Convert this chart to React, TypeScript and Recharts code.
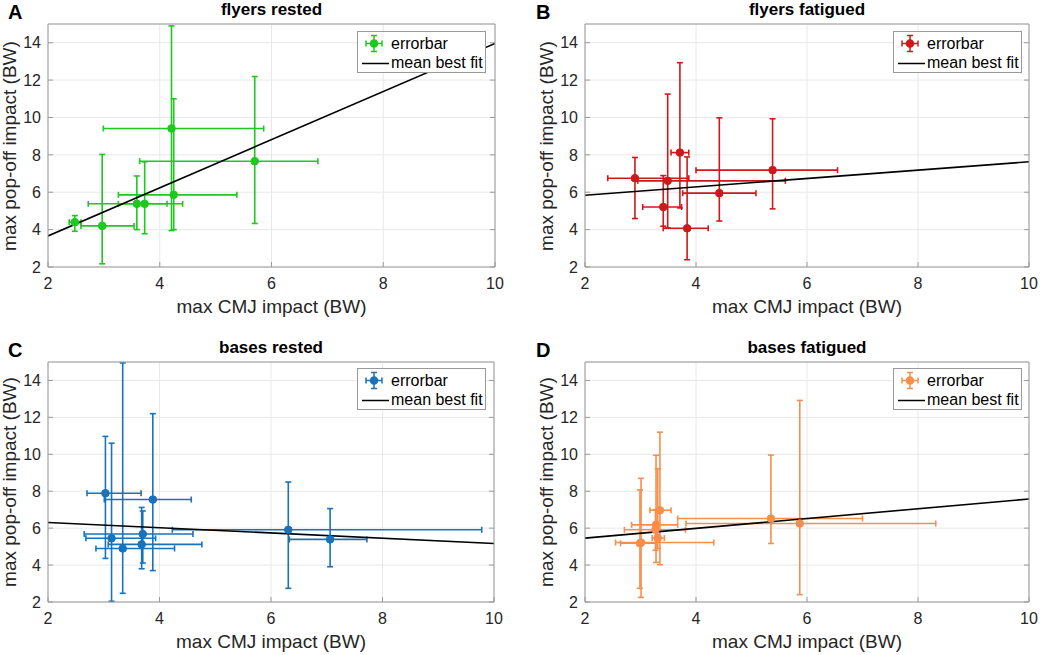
import React from "react";
import { ComposedChart, Scatter, Line, XAxis, YAxis, CartesianGrid, ErrorBar } from "recharts";

const xTicks = [2, 4, 6, 8, 10];
const yTicks = [2, 4, 6, 8, 10, 12, 14];

// each point: mean, and low/high ends of the error bars
const flyersRested = [
  { x: 2.48, y: 4.4, xLo: 2.38, xHi: 2.59, yLo: 3.91, yHi: 4.75 },
  { x: 2.97, y: 4.2, xLo: 2.59, xHi: 3.54, yLo: 2.17, yHi: 8.02 },
  { x: 3.59, y: 5.38, xLo: 2.72, xHi: 4.41, yLo: 4.0, yHi: 6.87 },
  { x: 3.73, y: 5.38, xLo: 3.26, xHi: 4.13, yLo: 3.78, yHi: 7.63 },
  { x: 4.25, y: 5.86, xLo: 3.26, xHi: 5.38, yLo: 4.0, yHi: 11.0 },
  { x: 4.21, y: 9.41, xLo: 2.99, xHi: 5.86, yLo: 3.95, yHi: 14.9 },
  { x: 5.7, y: 7.66, xLo: 3.64, xHi: 6.83, yLo: 4.33, yHi: 12.19 },
];

const flyersFatigued = [
  { x: 2.9, y: 6.75, xLo: 2.41, xHi: 3.87, yLo: 4.59, yHi: 7.86 },
  { x: 3.41, y: 5.21, xLo: 3.04, xHi: 3.74, yLo: 4.18, yHi: 6.89 },
  { x: 3.49, y: 6.61, xLo: 2.95, xHi: 5.61, yLo: 4.09, yHi: 11.25 },
  { x: 3.71, y: 8.12, xLo: 3.55, xHi: 3.87, yLo: 5.16, yHi: 12.93 },
  { x: 3.84, y: 4.07, xLo: 3.41, xHi: 4.22, yLo: 2.39, yHi: 7.89 },
  { x: 4.42, y: 5.95, xLo: 3.76, xHi: 5.08, yLo: 4.46, yHi: 9.98 },
  { x: 5.38, y: 7.18, xLo: 4.0, xHi: 6.55, yLo: 5.11, yHi: 9.93 },
];

const basesRested = [
  { x: 3.03, y: 7.89, xLo: 2.7, xHi: 3.67, yLo: 4.36, yHi: 10.97 },
  { x: 3.88, y: 7.55, xLo: 3.01, xHi: 4.57, yLo: 3.7, yHi: 12.2 },
  { x: 3.14, y: 5.45, xLo: 2.68, xHi: 3.93, yLo: 2.04, yHi: 10.6 },
  { x: 3.34, y: 4.9, xLo: 2.86, xHi: 4.27, yLo: 2.47, yHi: 14.95 },
  { x: 3.7, y: 5.68, xLo: 2.65, xHi: 4.6, yLo: 4.11, yHi: 6.93 },
  { x: 3.68, y: 5.12, xLo: 3.08, xHi: 4.76, yLo: 3.8, yHi: 7.12 },
  { x: 6.31, y: 5.91, xLo: 4.23, xHi: 9.78, yLo: 2.74, yHi: 8.5 },
  { x: 7.06, y: 5.39, xLo: 6.33, xHi: 7.72, yLo: 3.91, yHi: 7.06 },
];

const basesFatigued = [
  { x: 3.01, y: 5.22, xLo: 2.55, xHi: 4.32, yLo: 2.25, yHi: 8.7 },
  { x: 2.99, y: 5.18, xLo: 2.64, xHi: 3.3, yLo: 2.74, yHi: 8.07 },
  { x: 3.28, y: 6.18, xLo: 2.84, xHi: 3.67, yLo: 4.14, yHi: 9.95 },
  { x: 3.35, y: 6.97, xLo: 3.17, xHi: 3.55, yLo: 4.02, yHi: 11.2 },
  { x: 3.31, y: 5.46, xLo: 3.21, xHi: 3.43, yLo: 4.9, yHi: 9.22 },
  { x: 3.27, y: 5.91, xLo: 2.71, xHi: 3.81, yLo: 4.8, yHi: 7.0 },
  { x: 5.35, y: 6.52, xLo: 3.67, xHi: 7.0, yLo: 5.17, yHi: 9.96 },
  { x: 5.87, y: 6.25, xLo: 3.82, xHi: 8.32, yLo: 2.4, yHi: 12.92 },
];

// mean best fit lines, end points at x = 2 and x = 10
const fitFlyersRested = [{ x: 2, y: 3.66 }, { x: 10, y: 13.96 }];
const fitFlyersFatigued = [{ x: 2, y: 5.84 }, { x: 10, y: 7.63 }];
const fitBasesRested = [{ x: 2, y: 6.31 }, { x: 10, y: 5.17 }];
const fitBasesFatigued = [{ x: 2, y: 5.46 }, { x: 10, y: 7.58 }];

const FONT = '"Liberation Sans", Arial, Helvetica, sans-serif';
const AXIS = "#9a9a9a";
const TXT = "#262626";

type Pt = { x: number; y: number; xLo: number; xHi: number; yLo: number; yHi: number };

function LegendBox({ color, left, top }: { color: string; left: number; top: number }) {
  return (
    <div
      style={{
        position: "absolute",
        left,
        top,
        width: 129,
        height: 42,
        border: `1px solid ${AXIS}`,
        background: "#fff",
        boxSizing: "border-box",
        fontSize: 16,
        color: "#000",
      }}
    >
      <svg width={30} height={40} style={{ position: "absolute", left: 2, top: 0 }}>
        <g stroke={color} strokeWidth={1.5}>
          <line x1={6} y1={11.5} x2={22} y2={11.5} />
          <line x1={6} y1={8.5} x2={6} y2={14.5} />
          <line x1={22} y1={8.5} x2={22} y2={14.5} />
          <line x1={14} y1={3.5} x2={14} y2={19.5} />
          <line x1={11} y1={3.5} x2={17} y2={3.5} />
          <line x1={11} y1={19.5} x2={17} y2={19.5} />
          <circle cx={14} cy={11.5} r={3.5} fill={color} />
        </g>
        <line x1={2} y1={31.5} x2={29} y2={31.5} stroke="#000" strokeWidth={1.5} />
      </svg>
      <div style={{ position: "absolute", left: 33, top: 2, lineHeight: "19px" }}>errorbar</div>
      <div style={{ position: "absolute", left: 33, top: 21, lineHeight: "19px" }}>mean best fit</div>
    </div>
  );
}

const X_H = 30; // bottom axis band
const Y_W = 40; // left axis band

function Panel({
  letter,
  title,
  color,
  points,
  fit,
  left,
  top,
  width,
  plot,
  legendLeft,
  legendTop,
}: {
  letter: string;
  title: string;
  color: string;
  points: Pt[];
  fit: { x: number; y: number }[];
  left: number;
  top: number;
  width: number;
  plot: { left: number; top: number; right: number; bottom: number };
  legendLeft: number;
  legendTop: number;
}) {
  const height = 320;
  const data = points.map((p) => ({
    x: p.x,
    y: p.y,
    ex: [p.x - p.xLo, p.xHi - p.x],
    ey: [p.y - p.yLo, p.yHi - p.y],
  }));
  const plotW = plot.right - plot.left;
  const plotH = plot.bottom - plot.top;
  const margin = {
    left: plot.left - Y_W,
    top: plot.top - 1,
    right: width - plot.right - 1,
    bottom: height - plot.bottom - X_H,
  };
  const tickStyle = { fill: TXT, fontSize: 16, fontFamily: FONT };
  return (
    <div style={{ position: "absolute", left, top, width, height }}>
      <ComposedChart width={width} height={height} margin={margin}>
        <CartesianGrid stroke="#e8e8e8" strokeWidth={1} />
        <XAxis
          dataKey="x"
          type="number"
          domain={[2, 10]}
          ticks={xTicks}
          allowDataOverflow
          height={X_H}
          tickSize={-5}
          tickMargin={16}
          tick={tickStyle}
          axisLine={{ stroke: AXIS }}
          tickLine={{ stroke: AXIS }}
        />
        <XAxis
          xAxisId="top"
          orientation="top"
          type="number"
          domain={[2, 10]}
          ticks={xTicks}
          allowDataOverflow
          height={1}
          tickSize={-5}
          tickFormatter={() => ""}
          axisLine={{ stroke: AXIS }}
          tickLine={{ stroke: AXIS }}
        />
        <YAxis
          type="number"
          domain={[2, 15]}
          ticks={yTicks}
          allowDataOverflow
          width={Y_W}
          tickSize={-5}
          tickMargin={12}
          tick={tickStyle}
          axisLine={{ stroke: AXIS }}
          tickLine={{ stroke: AXIS }}
        />
        <YAxis
          yAxisId="right"
          orientation="right"
          type="number"
          domain={[2, 15]}
          ticks={yTicks}
          allowDataOverflow
          width={1}
          tickSize={-5}
          tickFormatter={() => ""}
          axisLine={{ stroke: AXIS }}
          tickLine={{ stroke: AXIS }}
        />
        <Scatter
          data={data}
          dataKey="y"
          fill={color}
          isAnimationActive={false}
          shape={(props: any) => (
            <circle cx={props.cx} cy={props.cy} r={3.8} fill={color} stroke={color} strokeWidth={1} />
          )}
        >
          <ErrorBar dataKey="ex" direction="x" width={3} stroke={color} strokeWidth={1.6} />
          <ErrorBar dataKey="ey" direction="y" width={3} stroke={color} strokeWidth={1.6} />
        </Scatter>
        <Line
          data={fit}
          dataKey="y"
          stroke="#000"
          strokeWidth={1.6}
          dot={false}
          activeDot={false}
          isAnimationActive={false}
        />
      </ComposedChart>
      <div
        style={{
          position: "absolute",
          left: 8,
          top: 1,
          fontSize: 20,
          fontWeight: "bold",
          lineHeight: "22px",
          color: "#000",
        }}
      >
        {letter}
      </div>
      <div
        style={{
          position: "absolute",
          left: plot.left,
          width: plotW,
          top: 0,
          textAlign: "center",
          fontSize: 17,
          fontWeight: "bold",
          lineHeight: "20px",
          color: "#000",
        }}
      >
        {title}
      </div>
      <div
        style={{
          position: "absolute",
          left: plot.left,
          width: plotW,
          top: plot.bottom + 29,
          textAlign: "center",
          fontSize: 19,
          lineHeight: "22px",
          color: TXT,
        }}
      >
        max CMJ impact (BW)
      </div>
      <div
        style={{
          position: "absolute",
          left: plot.left - 38,
          top: plot.top + plotH / 2,
          transform: "translate(-50%, -50%) rotate(-90deg)",
          whiteSpace: "nowrap",
          fontSize: 19,
          lineHeight: "22px",
          color: TXT,
        }}
      >
        max pop-off impact (BW)
      </div>
      <LegendBox color={color} left={legendLeft} top={legendTop} />
    </div>
  );
}

export default function App() {
  return (
    <div
      style={{
        position: "absolute",
        left: 0,
        top: 0,
        width: 1040,
        height: 655,
        background: "#fff",
        fontFamily: FONT,
        overflow: "hidden",
      }}
    >
      <Panel
        letter="A"
        title="flyers rested"
        color="#1ec81e"
        points={flyersRested}
        fit={fitFlyersRested}
        left={0}
        top={0}
        width={512}
        plot={{ left: 48, top: 24, right: 495, bottom: 267 }}
        legendLeft={357}
        legendTop={31}
      />
      <Panel
        letter="B"
        title="flyers fatigued"
        color="#cc1a1a"
        points={flyersFatigued}
        fit={fitFlyersFatigued}
        left={528}
        top={0}
        width={512}
        plot={{ left: 57, top: 24, right: 501, bottom: 267 }}
        legendLeft={365}
        legendTop={31}
      />
      <Panel
        letter="C"
        title="bases rested"
        color="#1a72b8"
        points={basesRested}
        fit={fitBasesRested}
        left={0}
        top={338}
        width={512}
        plot={{ left: 48, top: 24, right: 494, bottom: 264 }}
        legendLeft={357}
        legendTop={30}
      />
      <Panel
        letter="D"
        title="bases fatigued"
        color="#f68e4c"
        points={basesFatigued}
        fit={fitBasesFatigued}
        left={528}
        top={338}
        width={512}
        plot={{ left: 57, top: 24, right: 501, bottom: 264 }}
        legendLeft={365}
        legendTop={30}
      />
    </div>
  );
}
